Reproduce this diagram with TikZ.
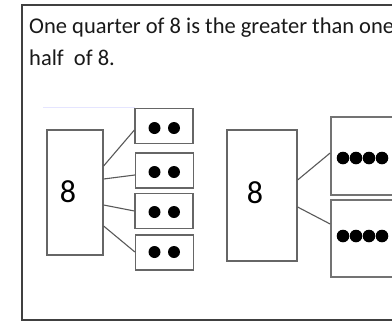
\documentclass[tikz,border=0pt]{standalone}
\usepackage{fontspec}
\setmainfont{Carlito}
\begin{document}
\begin{tikzpicture}[x=1pt,y=-1pt,
  frameline/.style={draw=black!75},
  bigbox/.style={draw=black!60,line width=1.2pt,minimum width=56pt,minimum height=125pt,inner sep=0pt},
  smallbox/.style={draw=black!60,line width=1.2pt,minimum width=58pt,minimum height=35pt,inner sep=0pt},
  halfbox/.style={draw=black!55,line width=1.7pt,minimum width=110pt,minimum height=78pt,inner sep=0pt},
  conn/.style={draw=black!65,line width=1.1pt},
  dot/.style={circle,fill=black,minimum size=12pt,inner sep=0pt},
  bigdot/.style={circle,fill=black,minimum size=12.6pt,inner sep=0pt},
  digit/.style={font=\fontsize{32}{36}\selectfont,inner sep=0pt},
  txt/.style={font=\fontsize{22.5}{27}\selectfont,inner sep=0pt,text=black!90}]
\useasboundingbox (0,0) rectangle (392,322);
\clip (0,0) rectangle (392,322);
\fill[white] (0,0) rectangle (392,322);
% frame
\draw[frameline,line width=1.6pt] (400,5) -- (22,5);
\draw[frameline,line width=2pt] (22,4.2) -- (22,320);
\draw[frameline,line width=2.4pt] (21,320) -- (400,320);
% text
\node[txt,anchor=base west] (t1) at (29,33) {One quarter of 8 is the greater than one};
\node[txt,anchor=base west] (t2) at (29,65) {half\ \ of 8.};
% faint line
\draw[draw=blue!10,line width=0.8pt] (43,107) -- (135,107);
% left group
\node[bigbox] (L) at (75,192.5) {};
\node[digit] (L8) at (68,192) {8};
\node[smallbox] (s1) at (164,126) {};
\node[smallbox] (s2) at (164.5,170.5) {};
\node[smallbox] (s3) at (164,211) {};
\node[smallbox] (s4) at (164.5,252.5) {};
\foreach \n/\y in {s1/128,s2/172,s3/212,s4/252}{
  \node[dot] (\n a) at (154.5,\y) {};
  \node[dot] (\n b) at (174,\y) {};
}
\draw[conn] ([yshift=26.5pt]L.east) -- ([yshift=-4pt]s1.west);
\draw[conn] ([yshift=13.5pt]L.east) -- ([yshift=-4.5pt]s2.west);
\draw[conn] ([yshift=-12.5pt]L.east) -- ([yshift=0pt]s3.west);
\draw[conn] ([yshift=-33.5pt]L.east) -- ([yshift=0.5pt]s4.west);
% right group
\node[bigbox,minimum width=70pt,minimum height=131pt] (R) at (262,195.5) {};
\node[digit] (R8) at (255,193) {8};
\node[halfbox] (h1) at (386,156) {};
\node[halfbox,minimum height=77pt] (h2) at (386,238.5) {};
\foreach \x [count=\i] in {343,356,369,382}{
  \node[bigdot] (h1d\i) at (\x,158) {};
  \node[bigdot] (h2d\i) at (\x,236) {};
}
\draw[conn] ([yshift=15.5pt]R.east) -- ([yshift=3pt]h1.west);
\draw[conn] ([yshift=-11.5pt]R.east) -- ([yshift=14.5pt]h2.west);
\end{tikzpicture}
\end{document}
